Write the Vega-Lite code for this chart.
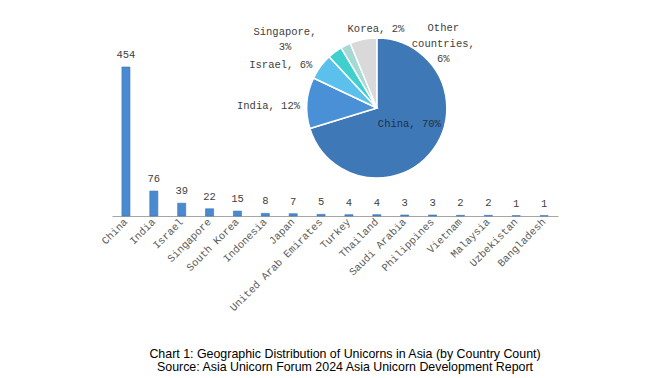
{
  "$schema": "https://vega.github.io/schema/vega-lite/v6.json",
  "width": 446,
  "height": 150,
  "autosize": "none",
  "padding": {"left": 112, "top": 66, "right": 92, "bottom": 162},
  "background": "white",
  "config": {"view": {"stroke": null}},
  "title": {
    "text": ["Chart 1: Geographic Distribution of Unicorns in Asia (by Country Count)", "Source:  Asia Unicorn Forum 2024 Asia Unicorn Development Report"],
    "orient": "bottom",
    "anchor": "middle",
    "font": "Liberation Sans",
    "fontSize": 12.4,
    "fontWeight": "normal",
    "color": "#000000",
    "lineHeight": 13.5,
    "offset": 35,
    "dx": 10
  },
  "datasets": {
    "bars": [
      {"country": "China", "count": 454},
      {"country": "India", "count": 76},
      {"country": "Israel", "count": 39},
      {"country": "Singapore", "count": 22},
      {"country": "South Korea", "count": 15},
      {"country": "Indonesia", "count": 8},
      {"country": "Japan", "count": 7},
      {"country": "United Arab Emirates", "count": 5},
      {"country": "Turkey", "count": 4},
      {"country": "Thailand", "count": 4},
      {"country": "Saudi Arabia", "count": 3},
      {"country": "Philippines", "count": 3},
      {"country": "Vietnam", "count": 2},
      {"country": "Malaysia", "count": 2},
      {"country": "Uzbekistan", "count": 1},
      {"country": "Bangladesh", "count": 1}
    ],
    "pie": [
      {"name": "China", "value": 454, "k": 1, "label": "China, 70%"},
      {"name": "India", "value": 76, "k": 2, "label": "India, 12%"},
      {"name": "Israel", "value": 39, "k": 3, "label": "Israel, 6%"},
      {"name": "Singapore", "value": 22, "k": 4, "label": "Singapore,\n3%"},
      {"name": "Korea", "value": 15, "k": 5, "label": "Korea, 2%"},
      {"name": "Other countries", "value": 40, "k": 6, "label": "Other\ncountries,\n6%"}
    ]
  },
  "layer": [
    {
      "data": {"name": "bars"},
      "mark": {"type": "bar", "color": "#4a8ad0", "stroke": "#3b74b3", "strokeWidth": 0.6},
      "encoding": {
        "x": {
          "field": "country", "type": "nominal", "sort": null,
          "scale": {"paddingInner": 0.71, "paddingOuter": 0.355},
          "axis": {
            "title": null, "ticks": false, "labelAngle": -45, "labelAlign": "right", "labelBaseline": "middle",
            "labelPadding": 4, "labelFont": "Liberation Mono", "labelFontSize": 10.5, "labelColor": "#595959",
            "domainColor": "#a6a6a6", "domainWidth": 1, "labelOverlap": false
          }
        },
        "y": {"field": "count", "type": "quantitative", "scale": {"domain": [0, 457], "nice": false}, "axis": null}
      }
    },
    {
      "data": {"name": "bars"},
      "mark": {"type": "text", "dy": -12, "font": "Liberation Mono", "fontSize": 10.5, "color": "#404040"},
      "encoding": {
        "x": {"field": "country", "type": "nominal", "sort": null},
        "y": {"field": "count", "type": "quantitative", "scale": {"domain": [0, 457], "nice": false}},
        "text": {"field": "count", "type": "quantitative"}
      }
    },
    {
      "data": {"name": "pie"},
      "mark": {"type": "arc", "outerRadius": 70, "stroke": "white", "strokeWidth": 1.5},
      "encoding": {
        "x": {"datum": "Thailand", "type": "nominal"},
        "y": {"datum": 329, "type": "quantitative", "scale": {"domain": [0, 457], "nice": false}},
        "theta": {"field": "value", "type": "quantitative", "stack": true},
        "order": {"field": "k", "type": "quantitative"},
        "color": {
          "field": "name", "type": "nominal", "legend": null,
          "scale": {
            "domain": ["China", "India", "Israel", "Singapore", "Korea", "Other countries"],
            "range": ["#3f78b6", "#4a90d6", "#5bc0ec", "#40cfcf", "#a6d8d4", "#d9d9d9"]
          }
        }
      }
    },
    {
      "data": {"name": "pie"},
      "transform": [
        {"window": [{"op": "sum", "field": "value", "as": "cum"}], "sort": [{"field": "k"}]},
        {"calculate": "datum.cum - datum.value / 2", "as": "mid"},
        {"filter": "datum.name == 'China'"}
      ],
      "mark": {"type": "text", "radius": 38, "dx": 2, "dy": -7, "font": "Liberation Mono", "fontSize": 10.5, "color": "#1f2f44", "lineBreak": "\n"},
      "encoding": {
        "x": {"datum": "Thailand", "type": "nominal"},
        "y": {"datum": 329, "type": "quantitative"},
        "theta": {"field": "mid", "type": "quantitative", "stack": null},
        "text": {"field": "label"}
      }
    },
    {
      "data": {"name": "pie"},
      "transform": [
        {"window": [{"op": "sum", "field": "value", "as": "cum"}], "sort": [{"field": "k"}]},
        {"calculate": "datum.cum - datum.value / 2", "as": "mid"},
        {"filter": "datum.name == 'India'"}
      ],
      "mark": {"type": "text", "radius": 77, "dy": 4, "align": "right", "font": "Liberation Mono", "fontSize": 10.5, "color": "#404040", "lineBreak": "\n"},
      "encoding": {
        "x": {"datum": "Thailand", "type": "nominal"},
        "y": {"datum": 329, "type": "quantitative"},
        "theta": {"field": "mid", "type": "quantitative", "stack": null},
        "text": {"field": "label"}
      }
    },
    {
      "data": {"name": "pie"},
      "transform": [
        {"window": [{"op": "sum", "field": "value", "as": "cum"}], "sort": [{"field": "k"}]},
        {"calculate": "datum.cum - datum.value / 2", "as": "mid"},
        {"filter": "datum.name == 'Israel'"}
      ],
      "mark": {"type": "text", "radius": 80, "dy": 4, "align": "right", "font": "Liberation Mono", "fontSize": 10.5, "color": "#404040", "lineBreak": "\n"},
      "encoding": {
        "x": {"datum": "Thailand", "type": "nominal"},
        "y": {"datum": 329, "type": "quantitative"},
        "theta": {"field": "mid", "type": "quantitative", "stack": null},
        "text": {"field": "label"}
      }
    },
    {
      "data": {"name": "pie"},
      "transform": [
        {"window": [{"op": "sum", "field": "value", "as": "cum"}], "sort": [{"field": "k"}]},
        {"calculate": "datum.cum - datum.value / 2", "as": "mid"},
        {"filter": "datum.name == 'Singapore'"}
      ],
      "mark": {"type": "text", "radius": 100, "dx": -32, "dy": 4, "align": "center", "lineHeight": 15, "font": "Liberation Mono", "fontSize": 10.5, "color": "#404040", "lineBreak": "\n"},
      "encoding": {
        "x": {"datum": "Thailand", "type": "nominal"},
        "y": {"datum": 329, "type": "quantitative"},
        "theta": {"field": "mid", "type": "quantitative", "stack": null},
        "text": {"field": "label"}
      }
    },
    {
      "data": {"name": "pie"},
      "transform": [
        {"window": [{"op": "sum", "field": "value", "as": "cum"}], "sort": [{"field": "k"}]},
        {"calculate": "datum.cum - datum.value / 2", "as": "mid"},
        {"filter": "datum.name == 'Korea'"}
      ],
      "mark": {"type": "text", "radius": 85, "dx": 37, "dy": -3, "align": "center", "font": "Liberation Mono", "fontSize": 10.5, "color": "#404040", "lineBreak": "\n"},
      "encoding": {
        "x": {"datum": "Thailand", "type": "nominal"},
        "y": {"datum": 329, "type": "quantitative"},
        "theta": {"field": "mid", "type": "quantitative", "stack": null},
        "text": {"field": "label"}
      }
    },
    {
      "data": {"name": "pie"},
      "transform": [
        {"window": [{"op": "sum", "field": "value", "as": "cum"}], "sort": [{"field": "k"}]},
        {"calculate": "datum.cum - datum.value / 2", "as": "mid"},
        {"filter": "datum.name == 'Other countries'"}
      ],
      "mark": {"type": "text", "radius": 70, "dx": 80, "dy": -11, "align": "center", "lineHeight": 15.5, "font": "Liberation Mono", "fontSize": 10.5, "color": "#404040", "lineBreak": "\n"},
      "encoding": {
        "x": {"datum": "Thailand", "type": "nominal"},
        "y": {"datum": 329, "type": "quantitative"},
        "theta": {"field": "mid", "type": "quantitative", "stack": null},
        "text": {"field": "label"}
      }
    }
  ]
}
